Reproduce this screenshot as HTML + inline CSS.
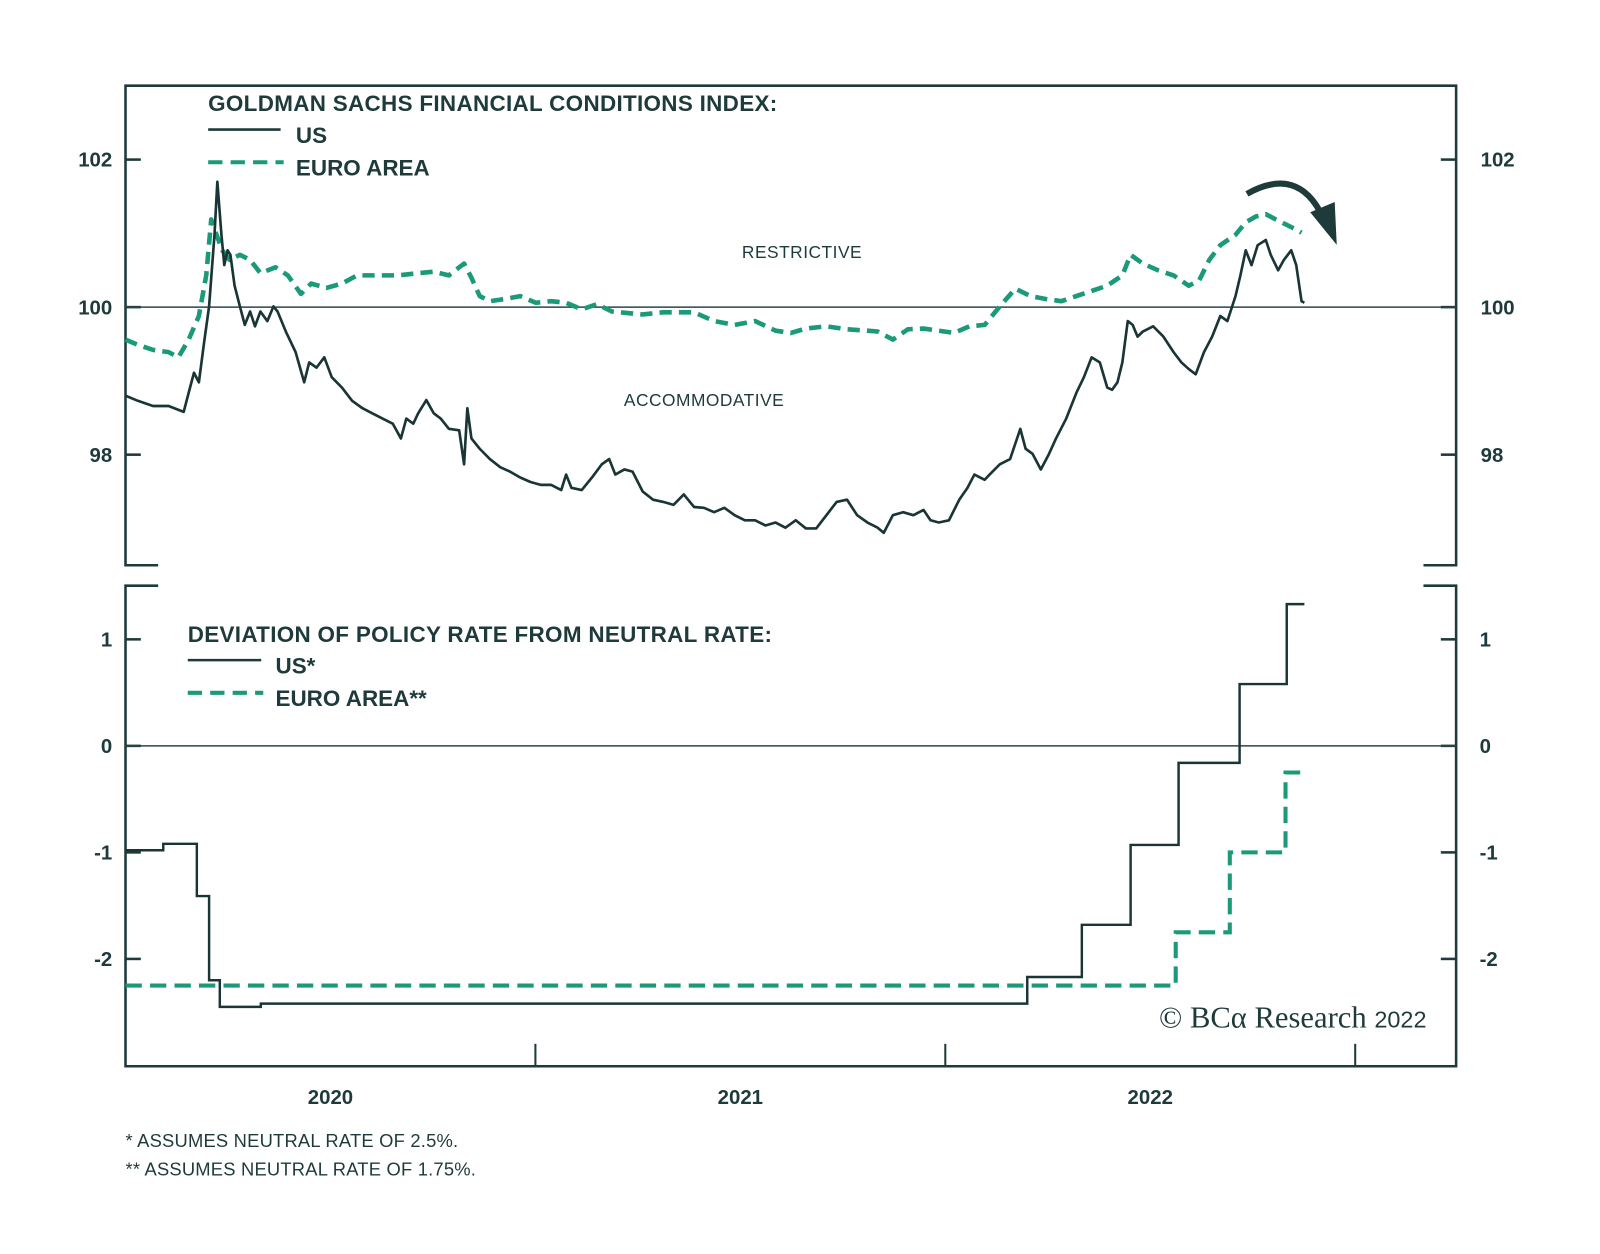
<!DOCTYPE html>
<html><head><meta charset="utf-8"><style>
html,body{margin:0;padding:0;background:#fff;}
svg{display:block;}
text{font-family:"Liberation Sans",sans-serif;fill:#1e3a3a;}
</style></head><body>
<svg id="chart" width="1600" height="1254" viewBox="0 0 1568 1229" preserveAspectRatio="none" xmlns="http://www.w3.org/2000/svg">
<g id="frame" stroke="#1e3a3a" stroke-width="2.5" fill="none">
<polyline points="155,554 123,554 123,84 1427,84 1427,554 1395,554"/>
<polyline points="155,574 123,574 123,1045 1427,1045 1427,574 1395,574"/>
</g>
<g id="axes"></g>
<g id="series"></g>
<g>
<text x="204" y="109" font-size="22" font-weight="bold" letter-spacing="0.3">GOLDMAN SACHS FINANCIAL CONDITIONS INDEX:</text>
<line x1="204" y1="127" x2="275" y2="127" stroke="#1e3a3a" stroke-width="2.5"/>
<text x="290" y="140" font-size="22" font-weight="bold">US</text>
<line x1="204" y1="159" x2="278" y2="159" stroke="#1a9a78" stroke-width="4" stroke-dasharray="14,8"/>
<text x="290" y="172" font-size="22" font-weight="bold">EURO AREA</text>
</g>
<text x="786" y="253" font-size="17" text-anchor="middle" letter-spacing="0.5">RESTRICTIVE</text>
<text x="690" y="398" font-size="17" text-anchor="middle" letter-spacing="0.5">ACCOMMODATIVE</text>
<g>
<text x="184" y="629" font-size="22" font-weight="bold" letter-spacing="0.3">DEVIATION OF POLICY RATE FROM NEUTRAL RATE:</text>
<line x1="184" y1="647" x2="256" y2="647" stroke="#1e3a3a" stroke-width="2.5"/>
<text x="270" y="660" font-size="22" font-weight="bold">US*</text>
<line x1="184" y1="679" x2="258" y2="679" stroke="#1a9a78" stroke-width="4" stroke-dasharray="14,8"/>
<text x="270" y="692" font-size="22" font-weight="bold">EURO AREA**</text>
</g>
<g>
<path d="M1222,190 Q1272,162 1296,212" stroke="#1e3a3a" stroke-width="6" fill="none"/>
<polygon points="1284,208 1310,240 1308,198" fill="#1e3a3a"/>
</g>
<text x="1398" y="1007" font-size="30" text-anchor="end" style="font-family:'Liberation Serif',serif">© BCα Research <tspan font-size="23" style="font-family:'Liberation Sans',sans-serif">2022</tspan></text>
<text x="123" y="1124" font-size="18" letter-spacing="0.2">*  ASSUMES NEUTRAL RATE OF 2.5%.</text>
<text x="123" y="1152" font-size="18" letter-spacing="0.2">** ASSUMES NEUTRAL RATE OF 1.75%.</text>
</svg>
<script>
const fciUsDates=[2020.000,2020.030,2020.067,2020.105,2020.142,2020.154,2020.167,2020.179,2020.192,2020.204,2020.217,2020.224,2020.234,2020.241,2020.249,2020.256,2020.266,2020.279,2020.291,2020.304,2020.316,2020.329,2020.346,2020.361,2020.371,2020.391,2020.415,2020.436,2020.448,2020.466,2020.485,2020.503,2020.528,2020.553,2020.578,2020.602,2020.627,2020.652,2020.672,2020.685,2020.702,2020.714,2020.734,2020.752,2020.769,2020.789,2020.814,2020.826,2020.834,2020.844,2020.864,2020.889,2020.914,2020.938,2020.963,2020.988,2021.013,2021.038,2021.063,2021.075,2021.088,2021.113,2021.138,2021.162,2021.180,2021.195,2021.217,2021.237,2021.262,2021.287,2021.312,2021.337,2021.362,2021.387,2021.411,2021.436,2021.461,2021.486,2021.511,2021.536,2021.561,2021.586,2021.610,2021.635,2021.660,2021.685,2021.710,2021.735,2021.760,2021.785,2021.810,2021.835,2021.850,2021.872,2021.897,2021.922,2021.947,2021.964,2021.984,2022.009,2022.034,2022.054,2022.071,2022.096,2022.108,2022.133,2022.158,2022.183,2022.196,2022.213,2022.233,2022.253,2022.270,2022.295,2022.320,2022.338,2022.357,2022.377,2022.395,2022.407,2022.420,2022.432,2022.445,2022.457,2022.469,2022.482,2022.507,2022.532,2022.557,2022.576,2022.594,2022.611,2022.631,2022.651,2022.671,2022.688,2022.708,2022.720,2022.733,2022.747,2022.762,2022.782,2022.794,2022.812,2022.826,2022.844,2022.856,2022.869,2022.876];
const fciUsValues=[98.80,98.73,98.66,98.66,98.58,98.84,99.11,98.98,99.53,100.01,100.98,101.70,100.98,100.57,100.77,100.71,100.29,100.01,99.76,99.94,99.74,99.94,99.81,100.01,99.94,99.67,99.39,98.98,99.25,99.18,99.32,99.05,98.91,98.73,98.63,98.56,98.49,98.42,98.22,98.49,98.42,98.56,98.74,98.56,98.49,98.35,98.33,97.87,98.63,98.22,98.08,97.94,97.83,97.77,97.69,97.63,97.59,97.59,97.52,97.73,97.55,97.52,97.69,97.87,97.94,97.73,97.80,97.77,97.50,97.39,97.36,97.32,97.46,97.29,97.28,97.22,97.28,97.18,97.11,97.11,97.04,97.08,97.01,97.11,97.00,97.00,97.18,97.36,97.39,97.18,97.08,97.01,96.94,97.18,97.22,97.18,97.25,97.11,97.08,97.11,97.39,97.55,97.73,97.66,97.73,97.87,97.94,98.35,98.08,98.01,97.80,98.01,98.22,98.49,98.84,99.05,99.32,99.25,98.91,98.88,98.98,99.25,99.81,99.76,99.60,99.67,99.74,99.60,99.39,99.25,99.16,99.09,99.39,99.60,99.88,99.81,100.15,100.43,100.77,100.57,100.84,100.91,100.71,100.50,100.64,100.77,100.57,100.08,100.06];
const fciEuroDates=[2020.000,2020.030,2020.067,2020.105,2020.129,2020.154,2020.179,2020.197,2020.209,2020.222,2020.236,2020.254,2020.279,2020.304,2020.329,2020.366,2020.396,2020.428,2020.453,2020.490,2020.528,2020.565,2020.615,2020.665,2020.714,2020.752,2020.789,2020.826,2020.844,2020.864,2020.889,2020.926,2020.963,2021.001,2021.038,2021.075,2021.113,2021.150,2021.187,2021.225,2021.262,2021.312,2021.349,2021.387,2021.436,2021.486,2021.536,2021.586,2021.623,2021.660,2021.710,2021.760,2021.810,2021.835,2021.872,2021.909,2021.947,2021.984,2022.021,2022.059,2022.096,2022.133,2022.171,2022.208,2022.245,2022.283,2022.320,2022.357,2022.395,2022.432,2022.452,2022.482,2022.519,2022.557,2022.594,2022.619,2022.644,2022.671,2022.708,2022.733,2022.758,2022.782,2022.806,2022.831,2022.856,2022.869];
const fciEuroValues=[99.56,99.49,99.42,99.39,99.32,99.56,99.88,100.43,101.19,100.98,100.77,100.64,100.71,100.64,100.46,100.54,100.43,100.18,100.32,100.26,100.32,100.43,100.43,100.43,100.46,100.48,100.43,100.59,100.40,100.15,100.08,100.11,100.15,100.06,100.08,100.06,99.97,100.04,99.94,99.92,99.90,99.93,99.93,99.93,99.81,99.76,99.81,99.68,99.65,99.71,99.74,99.70,99.68,99.67,99.56,99.70,99.71,99.68,99.65,99.74,99.76,100.01,100.25,100.15,100.11,100.08,100.15,100.22,100.29,100.43,100.71,100.59,100.50,100.43,100.29,100.36,100.64,100.84,100.98,101.15,101.23,101.26,101.19,101.12,101.05,101.01];
const rateUsDates=[2020.000,2020.092,2020.174,2020.204,2020.230,2020.330,2022.200,2022.333,2022.452,2022.569,2022.718,2022.833,2022.876];
const rateUsValues=[-0.98,-0.92,-1.41,-2.20,-2.45,-2.42,-2.17,-1.68,-0.93,-0.16,0.58,1.33,1.33];
const rateEuroDates=[2020.000,2022.562,2022.694,2022.830,2022.876];
const rateEuroValues=[-2.25,-1.75,-1.00,-0.25,-0.25];
const topTicks=[102,100,98];
const bottomTicks=[1,0,-1,-2];
const yearLabels=["2020","2021","2022"];
const yearStarts=[2020,2021,2022];

const NS="http://www.w3.org/2000/svg";
const X0=123,XPY=401.7;
const xs=t=>X0+(t-2020)*XPY;
const yTop=v=>301-(v-100)*72.3;
const yBot=v=>731-v*104.4;
const axes=document.getElementById('axes');
const series=document.getElementById('series');
function mk(tag,attrs,parent){const e=document.createElementNS(NS,tag);for(const k in attrs)e.setAttribute(k,attrs[k]);parent.appendChild(e);return e;}

topTicks.forEach(v=>{
  const y=yTop(v);
  const l=mk('line',{x1:123,x2:138,y1:y,y2:y,stroke:'#1e3a3a','stroke-width':2.5},axes);
  
  
  const r=mk('line',{x1:1412,x2:1427,y1:y,y2:y,stroke:'#1e3a3a','stroke-width':2.5},axes);
  
  
  const tl=mk('text',{x:110,y:y+7,'font-size':20,'font-weight':'bold','text-anchor':'end'},axes);tl.textContent=v;
  
  
  const tr=mk('text',{x:1451,y:y+7,'font-size':20,'font-weight':'bold'},axes);tr.textContent=v;
  
  
});
const ref1=mk('line',{x1:123,x2:1427,y1:yTop(100),y2:yTop(100),stroke:'#2a4646','stroke-width':1.5},axes);



bottomTicks.forEach(v=>{
  const y=yBot(v);
  const l=mk('line',{x1:123,x2:138,y1:y,y2:y,stroke:'#1e3a3a','stroke-width':2.5},axes);
  
  
  const r=mk('line',{x1:1412,x2:1427,y1:y,y2:y,stroke:'#1e3a3a','stroke-width':2.5},axes);
  
  
  const tl=mk('text',{x:110,y:y+7,'font-size':20,'font-weight':'bold','text-anchor':'end'},axes);tl.textContent=v;
  
  
  const tr=mk('text',{x:1450,y:y+7,'font-size':20,'font-weight':'bold'},axes);tr.textContent=v;
  
  
});
const ref2=mk('line',{x1:123,x2:1427,y1:yBot(0),y2:yBot(0),stroke:'#2a4646','stroke-width':1.5},axes);



yearStarts.forEach((yr,i)=>{
  const xt=xs(yr+1);
  const t=mk('line',{x1:xt,x2:xt,y1:1023,y2:1045,stroke:'#1e3a3a','stroke-width':2},axes);
  
  
  const lb=mk('text',{x:xs(yr+0.5),y:1082,'font-size':20,'font-weight':'bold','text-anchor':'middle'},axes);
  lb.textContent=yearLabels[i];
  
  
});

function linePts(d,v,fy){return d.map((t,i)=>xs(t).toFixed(1)+','+fy(v[i]).toFixed(1)).join(' ');}
function stepPts(d,v,fy){const p=[];for(let i=0;i<d.length;i++){if(i>0)p.push(xs(d[i]).toFixed(1)+','+fy(v[i-1]).toFixed(1));p.push(xs(d[i]).toFixed(1)+','+fy(v[i]).toFixed(1));}return p.join(' ');}

const eu=mk('polyline',{points:linePts(fciEuroDates,fciEuroValues,yTop),fill:'none',stroke:'#1a9a78','stroke-width':4.5,'stroke-dasharray':'12,7','stroke-linejoin':'round'},series);


const us=mk('polyline',{points:linePts(fciUsDates,fciUsValues,yTop),fill:'none',stroke:'#1a3535','stroke-width':2.6,'stroke-linejoin':'round'},series);


const reu=mk('polyline',{points:stepPts(rateEuroDates,rateEuroValues,yBot),fill:'none',stroke:'#1a9a78','stroke-width':4,'stroke-dasharray':'16,8'},series);


const rus=mk('polyline',{points:stepPts(rateUsDates,rateUsValues,yBot),fill:'none',stroke:'#1a3535','stroke-width':2.4},series);


</script>
</body></html>
